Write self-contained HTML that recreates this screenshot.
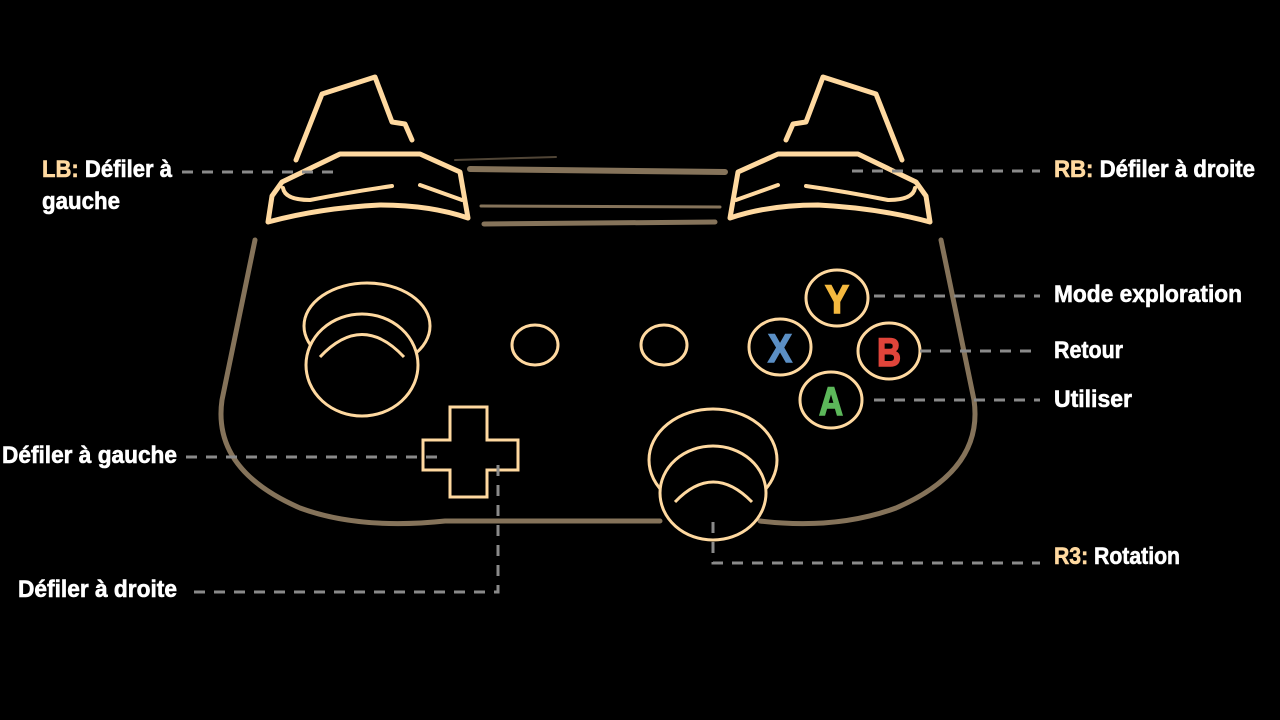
<!DOCTYPE html>
<html><head><meta charset="utf-8"><style>
html,body{margin:0;padding:0;background:#000;}
svg{display:block}
text{font-family:"Liberation Sans Narrow","Liberation Sans",sans-serif;font-weight:bold;font-size:24px;fill:#fff;stroke:#fff;stroke-width:0.6}
.o{fill:#ffd9a0;stroke:#ffd9a0}
</style></head><body>
<svg width="1280" height="720" viewBox="0 0 1280 720">
<rect width="1280" height="720" fill="#000"/>
<g fill="none" stroke="#85735a" stroke-width="5" stroke-linecap="round">
<path d="M255 240 L222 400 Q212 470 300 508 Q360 530 445 521 L660 521"/>
<path d="M941 240 L974 400 Q984 470 896 508 Q836 530 760 521"/>
<path d="M470 169 L725 172" stroke-width="6"/>
<path d="M481 206 L720 207" stroke-width="3"/>
<path d="M484 224 L715 222" stroke-width="5"/>
<path d="M455 160 L556 157" stroke-width="2" opacity="0.6"/>
</g>
<g id="lt" fill="none" stroke="#ffd9a0" stroke-width="5" stroke-linejoin="round" stroke-linecap="round">
<path d="M296 160 L322 94 L375 77 L392 122 L405 124 L412 140"/>
<path d="M268 222 L272 196 L282 182 L340 154 L420 154 L460 172 L468 218 Q430 205 380 205 Q320 208 268 222 Z"/>
<path d="M283 188 Q285 200 310 200 Q350 192 392 186" stroke-width="4"/>
<path d="M420 185 L462 200" stroke-width="4"/>
</g>
<use href="#lt" transform="translate(1198 0) scale(-1 1)"/>
<g fill="none" stroke="#ffd9a0" stroke-width="3">
<ellipse cx="367" cy="326" rx="63" ry="43"/>
<ellipse cx="362" cy="365" rx="56" ry="51" fill="#000"/>
<path d="M320 357 Q362 312 404 357"/>
<ellipse cx="535" cy="345" rx="23" ry="20"/>
<ellipse cx="664" cy="345" rx="23" ry="20"/>
<path d="M450 407 H487 V440 H518 V470 H487 V497 H450 V470 H423 V440 H450 Z"/>
<ellipse cx="713" cy="460" rx="64" ry="51"/>
<ellipse cx="713" cy="493" rx="53" ry="47" fill="#000"/>
<path d="M675 502 Q713 462 752 502"/>
<ellipse cx="837" cy="298" rx="31" ry="28"/>
<ellipse cx="780" cy="347" rx="31" ry="28"/>
<ellipse cx="889" cy="351" rx="31" ry="28"/>
<ellipse cx="831" cy="400" rx="31" ry="28"/>
</g>
<text x="825" y="313" textLength="24" lengthAdjust="spacingAndGlyphs" style="fill:#f5b93f;stroke:#f5b93f;stroke-width:1.5;font-size:40px">Y</text>
<text x="768" y="362" textLength="24" lengthAdjust="spacingAndGlyphs" style="fill:#5b8fc5;stroke:#5b8fc5;stroke-width:1.5;font-size:40px">X</text>
<text x="877" y="366" textLength="24" lengthAdjust="spacingAndGlyphs" style="fill:#e0443a;stroke:#e0443a;stroke-width:1.5;font-size:40px">B</text>
<text x="819" y="415" textLength="24" lengthAdjust="spacingAndGlyphs" style="fill:#5cb85a;stroke:#5cb85a;stroke-width:1.5;font-size:40px">A</text>
<g fill="none" stroke="#8a8a8a" stroke-width="3" stroke-dasharray="11 9">
<path d="M182 172 H340"/>
<path d="M852 171 H1040"/>
<path d="M874 296 H1040"/>
<path d="M920 351 H1040"/>
<path d="M874 400 H1040"/>
<path d="M186 457 H440"/>
<path d="M498 465 V592 H186"/>
<path d="M713 522 V563 H1040"/>
</g>
<text x="42" y="177" textLength="130" lengthAdjust="spacingAndGlyphs"><tspan class="o">LB:</tspan> Défiler à</text>
<text x="42" y="209" textLength="78" lengthAdjust="spacingAndGlyphs">gauche</text>
<text x="1054" y="177" textLength="201" lengthAdjust="spacingAndGlyphs"><tspan class="o">RB:</tspan> Défiler à droite</text>
<text x="1054" y="302" textLength="188" lengthAdjust="spacingAndGlyphs">Mode exploration</text>
<text x="1054" y="358" textLength="69" lengthAdjust="spacingAndGlyphs">Retour</text>
<text x="1054" y="407" textLength="78" lengthAdjust="spacingAndGlyphs">Utiliser</text>
<text x="2" y="463" textLength="175" lengthAdjust="spacingAndGlyphs">Défiler à gauche</text>
<text x="18" y="597" textLength="159" lengthAdjust="spacingAndGlyphs">Défiler à droite</text>
<text x="1054" y="564" textLength="126" lengthAdjust="spacingAndGlyphs"><tspan class="o">R3:</tspan> Rotation</text>
</svg>
</body></html>
